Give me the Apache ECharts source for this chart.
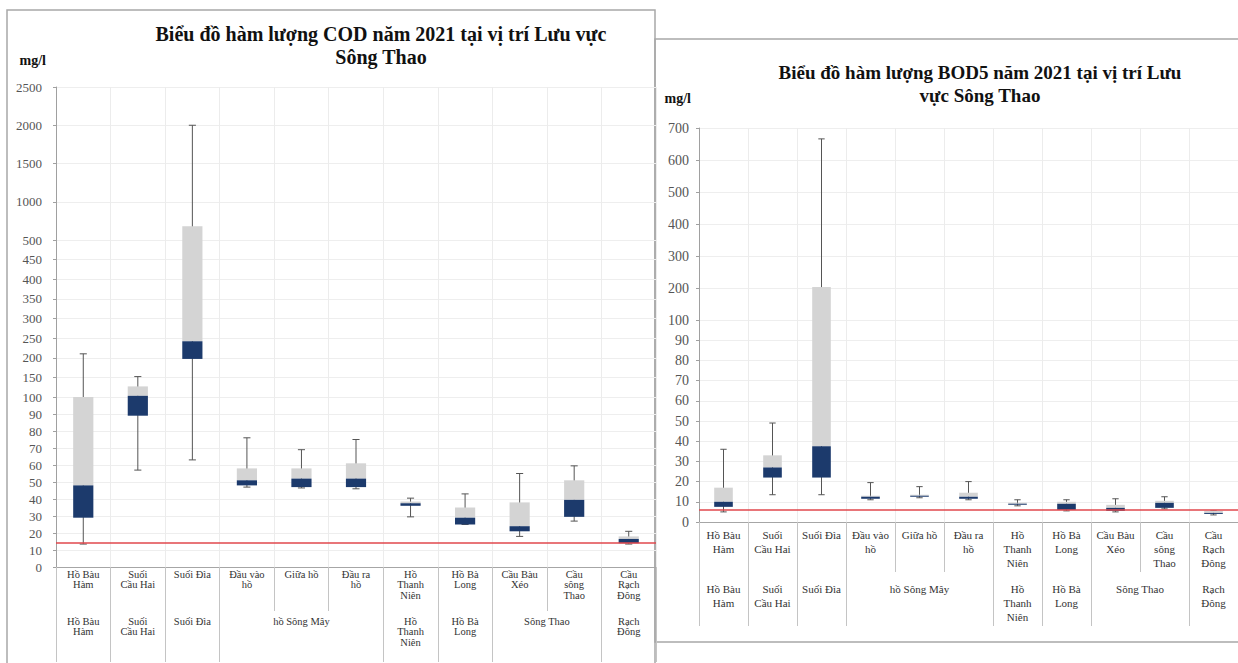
<!DOCTYPE html>
<html>
<head>
<meta charset="utf-8">
<script src="https://cdn.jsdelivr.net/npm/echarts@6/dist/echarts.min.js"></script>
<style>
  html, body { margin: 0; padding: 0; background: #fff; }
  #chart { width: 1238px; height: 663px; }
</style>
</head>
<body>
<div id="chart"></div>
<script>
// tên vị trí (hàng nhãn 1) và nhóm (hàng nhãn 2)
const sites = ['Hồ Bàu\nHàm', 'Suối\nCầu Hai', 'Suối Đìa', 'Đầu vào\nhồ', 'Giữa hồ', 'Đầu ra\nhồ',
  'Hồ\nThanh\nNiên', 'Hồ Bà\nLong', 'Cầu Bàu\nXéo', 'Cầu\nsông\nThao', 'Cầu\nRạch\nĐông'];
const groups = ['Hồ Bàu\nHàm', 'Suối\nCầu Hai', 'Suối Đìa', 'hồ Sông Mây', 'Hồ\nThanh\nNiên', 'Hồ Bà\nLong', 'Sông Thao', 'Rạch\nĐông'];
const groupSpans = [1, 1, 1, 3, 1, 1, 2, 1];

// COD (mg/l)
const codMin = [13.5, 57, 63, 47, 46.5, 46, 29.5, 25, 18, 27, 13.5];
const codQ1 = [29, 89, 197, 48, 47, 47, 36, 25, 21, 29.5, 14];
const codMed = [48, 103, 242, 51, 52, 52, 37.5, 29, 24, 39.5, 16.5];
const codQ3 = [100, 127, 680, 58, 58, 61, 38.5, 35, 38, 51, 18];
const codMax = [210, 152, 2000, 76, 69, 75, 40.5, 43, 55, 59.5, 21];
const codLimit = 14;

// BOD5 (mg/l)
const bodMin = [5, 13.5, 13.5, 11, 12, 11, 8, 5.5, 5, 6.5, 3.5];
const bodQ1 = [7.5, 22, 22, 11.5, 12.5, 11.5, 8.5, 6, 5.5, 7, 4];
const bodMed = [10, 27, 37.5, 12.5, 13, 12.5, 9, 9, 7, 9.5, 4.5];
const bodQ3 = [17, 33, 203, 13, 13.5, 14.5, 9.5, 10, 8.5, 10.5, 5.5];
const bodMax = [36, 49, 666, 19.5, 17.5, 20, 11, 11, 11.5, 12.5, 5.5];
const bodLimit = 6;

const SERIF = '"Liberation Serif", "Times New Roman", serif';
const NAVY = '#1c3a6c';
const GREY = '#d4d4d4';

// ranh giới & tâm nhóm (đơn vị: số cột)
const groupBounds = [0];
groupSpans.forEach(s => groupBounds.push(groupBounds[groupBounds.length - 1] + s));
const groupCenters = groups.map((g, k) => (groupBounds[k] + groupBounds[k + 1]) / 2);

// vẽ box plot kiểu Excel cho một đoạn trục (trục y bị ngắt)
function boxRenderer(st, seg, boxRatio, capRatio) {
  return function (params, api) {
    const i = api.value(0);
    const clamp = v => Math.max(seg.min, Math.min(seg.max, v));
    const pt = v => api.coord([i, clamp(v)]);
    const band = api.size([1, 0])[0];
    const half = band * boxRatio / 2;
    const cap = band * capRatio / 2;
    const lo = st.min[i], q1 = st.q1[i], md = st.med[i], q3 = st.q3[i], hi = st.max[i];
    const kids = [];
    const line = (x1, y1, x2, y2) => kids.push({
      type: 'line', shape: { x1, y1, x2, y2 }, style: { stroke: '#555', lineWidth: 1 }
    });
    if (hi > seg.min && lo < seg.max) {
      const a = pt(lo), b = pt(hi);
      line(a[0], a[1], b[0], b[1]);
    }
    if (lo >= seg.min && lo < seg.max) { const a = pt(lo); line(a[0] - cap, a[1], a[0] + cap, a[1]); }
    if (hi > seg.min && hi <= seg.max) { const b = pt(hi); line(b[0] - cap, b[1], b[0] + cap, b[1]); }
    const rect = (v1, v2, color) => {
      const a = pt(v1), b = pt(v2);
      if (Math.abs(a[1] - b[1]) < 0.01) return;
      kids.push({
        type: 'rect',
        shape: { x: a[0] - half, y: Math.min(a[1], b[1]), width: half * 2, height: Math.abs(a[1] - b[1]) },
        style: { fill: color }
      });
    };
    rect(md, q3, GREY);
    rect(q1, md, NAVY);
    return { type: 'group', children: kids };
  };
}

const option = {
  animation: false,
  backgroundColor: '#fff',
  title: [
    {
      text: 'Biểu đồ hàm lượng COD năm 2021 tại vị trí Lưu vực\nSông Thao',
      left: 381, top: 22, padding: 0, textAlign: 'center',
      textStyle: { fontFamily: SERIF, fontWeight: 'bold', fontSize: 20, lineHeight: 23, color: '#111' }
    },
    {
      text: 'Biểu đồ hàm lượng BOD5 năm 2021 tại vị trí Lưu\nvực Sông Thao',
      left: 980, top: 61, padding: 0, textAlign: 'center',
      textStyle: { fontFamily: SERIF, fontWeight: 'bold', fontSize: 19, lineHeight: 23, color: '#111' }
    }
  ],
  graphic: [
    { type: 'rect', shape: { x: 7, y: 10, width: 648, height: 700 }, style: { fill: 'none', stroke: '#a8a8a8', lineWidth: 1.5 }, silent: true },
    { type: 'rect', shape: { x: 655, y: 39, width: 620, height: 603 }, style: { fill: 'none', stroke: '#a8a8a8', lineWidth: 1.5 }, silent: true }
  ],
  grid: [], xAxis: [], yAxis: [], series: []
};

function addPanel(p) {
  let bottomGrid = -1;
  p.segs.forEach((seg, k) => {
    const gi = option.grid.length;
    const xi = option.xAxis.length;
    const isBottom = k === 0;
    const isTop = k === p.segs.length - 1;
    if (isBottom) bottomGrid = gi;
    option.grid.push({ left: p.left, width: p.width, top: seg.top, height: seg.height });
    option.xAxis.push({
      type: 'category', gridIndex: gi, data: sites, position: 'bottom',
      axisLine: { show: isBottom, lineStyle: { color: '#a6a6a6' } },
      axisTick: { show: isBottom, interval: 0, length: p.tickShort, lineStyle: { color: '#c4c4c4' } },
      axisLabel: {
        show: isBottom, interval: 0, margin: p.row1Margin, fontSize: p.xFont, lineHeight: p.xLine,
        color: '#333', fontFamily: SERIF
      },
      splitLine: { show: true, interval: 0, lineStyle: { color: '#ececec' } }
    });
    option.yAxis.push({
      type: 'value', gridIndex: gi, min: seg.min, max: seg.max, interval: seg.interval,
      name: isTop ? 'mg/l' : '', nameLocation: 'end', nameGap: p.nameGap,
      nameTextStyle: { fontFamily: SERIF, fontWeight: 'bold', fontSize: p.nameFont, color: '#111', align: 'right', padding: [0, p.namePad, 0, 0] },
      axisLine: { show: true, lineStyle: { color: '#a0a0a0' } },
      axisTick: { show: true, length: 3, lineStyle: { color: '#a0a0a0' } },
      axisLabel: {
        showMinLabel: seg.showMin, showMaxLabel: seg.showMax, margin: p.yMargin,
        fontSize: p.yFont, color: '#555', fontFamily: SERIF,
        formatter: v => String(v)
      },
      splitLine: { show: true, lineStyle: { color: '#eeeeee' } }
    });
    const s = {
      type: 'custom', xAxisIndex: xi, yAxisIndex: gi, silent: true,
      data: p.stats.med.map((v, i) => [i, v]),
      renderItem: boxRenderer(p.stats, seg, p.boxRatio, p.capRatio)
    };
    if (isBottom) {
      s.markLine = {
        silent: true, symbol: 'none', label: { show: false },
        lineStyle: { color: '#e0474c', width: 1.5, type: 'solid' },
        data: [{ yAxis: p.limit }]
      };
    }
    option.series.push(s);
  });
  // hàng nhãn thứ 2: nhóm vị trí
  option.xAxis.push({
    type: 'value', gridIndex: bottomGrid, position: 'bottom', min: 0, max: sites.length,
    axisLine: { show: false }, splitLine: { show: false },
    axisTick: { show: true, customValues: groupBounds, length: p.tickLong, lineStyle: { color: '#c4c4c4' } },
    axisLabel: {
      customValues: groupCenters, margin: p.row2Margin, fontSize: p.xFont, lineHeight: p.xLine,
      color: '#333', fontFamily: SERIF,
      formatter: v => groups[groupCenters.findIndex(c => Math.abs(c - v) < 1e-6)] || ''
    }
  });
}

addPanel({
  stats: { min: codMin, q1: codQ1, med: codMed, q3: codQ3, max: codMax },
  limit: codLimit, left: 56, width: 600,
  segs: [
    { min: 0, max: 100, interval: 10, top: 397, height: 170, showMin: true, showMax: true },
    { min: 100, max: 500, interval: 50, top: 240, height: 157, showMin: false, showMax: false },
    { min: 500, max: 2500, interval: 500, top: 87, height: 153, showMin: true, showMax: true }
  ],
  xFont: 10.5, xLine: 10.5, row1Margin: 2, row2Margin: 49, tickShort: 44, tickLong: 95,
  yFont: 13, yMargin: 14, nameGap: 20, nameFont: 14, namePad: 10,
  boxRatio: 0.37, capRatio: 0.13
});

addPanel({
  stats: { min: bodMin, q1: bodQ1, med: bodMed, q3: bodQ3, max: bodMax },
  limit: bodLimit, left: 699, width: 550,
  segs: [
    { min: 0, max: 100, interval: 10, top: 320, height: 202, showMin: true, showMax: true },
    { min: 100, max: 700, interval: 100, top: 128, height: 192, showMin: false, showMax: true }
  ],
  xFont: 11, xLine: 14, row1Margin: 6, row2Margin: 60, tickShort: 50, tickLong: 104,
  yFont: 14, yMargin: 10, nameGap: 23, nameFont: 14, namePad: 8,
  boxRatio: 0.38, capRatio: 0.13
});

const chart = echarts.init(document.getElementById('chart'), null, { renderer: 'svg' });
chart.setOption(option);
window.addEventListener('resize', () => chart.resize());
</script>
</body>
</html>
